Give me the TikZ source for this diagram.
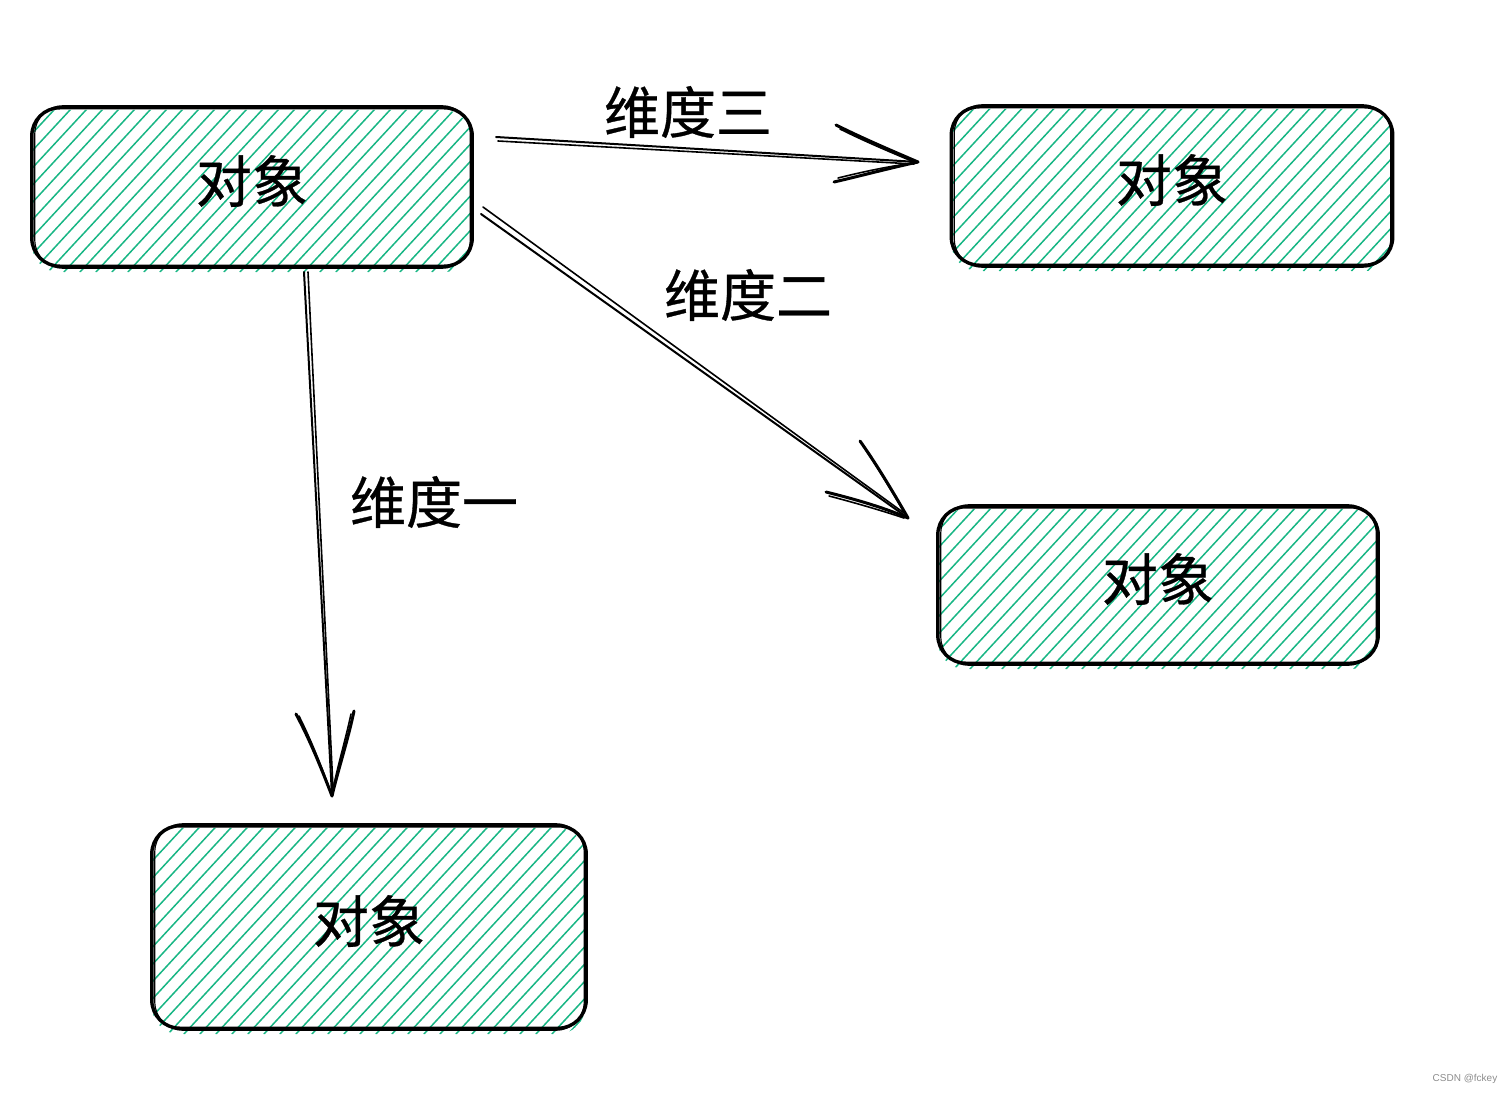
\documentclass[tikz,border=0pt]{standalone}
\usepackage{fontspec}
\setmainfont{Noto Sans CJK SC}[FakeBold=0.6]
\newfontfamily\wmfont{Liberation Sans}
\definecolor{hatchgreen}{RGB}{24,182,132}
\tikzset{
  hatch/.style={draw=hatchgreen, line width=1.5pt},
  objbox/.style={draw=none, rounded corners=28pt, inner sep=0pt,
    font=\fontsize{56}{60}\selectfont},
  outl/.style={draw=black, line width=3.4pt, rounded corners=28pt},
  outl2/.style={draw=black, line width=1.2pt, rounded corners=28pt},
  shaft/.style={draw=black, line width=2pt, line cap=round},
  shaftthin/.style={draw=black, line width=1.6pt, line cap=round},
  head/.style={draw=black, line width=3pt, line cap=round},
  headthin/.style={draw=black, line width=1.6pt, line cap=round},
  lbl/.style={font=\fontsize{56}{60}\selectfont, inner sep=0pt},
}
\newcommand\hatchbox[1]{%
  \begin{scope}
    \clip[rounded corners=28pt] ([yshift=-6pt]#1.south west) rectangle ([xshift=-1pt,yshift=-2pt]#1.north east);
    \foreach \k in {-240,-224,...,480}
      \draw[hatch] ([shift={(\k pt,-6pt)}]#1.south west) -- ++(250pt,270pt);
  \end{scope}
  \draw[outl] (#1.north west) rectangle (#1.south east);
  \draw[outl2] ([shift={(3,-2)}]#1.north west) rectangle ([shift={(-2,2)}]#1.south east);}
\newcommand\objtext{\raisebox{6pt}[\height][\depth]{对象}}
\begin{document}
\begin{tikzpicture}[x=1pt,y=-1pt]
\useasboundingbox (0,0) rectangle (1512,1094);
% boxes
\node[objbox, minimum width=440pt, minimum height=158pt] (a) at (252,187) {};
\node[objbox, minimum width=441pt, minimum height=158pt] (b) at (1172,186) {};
\node[objbox, minimum width=440pt, minimum height=156pt] (c) at (1158,585) {};
\node[objbox, minimum width=434pt, minimum height=202pt] (d) at (369,927) {};
\hatchbox{a}
\hatchbox{b}
\hatchbox{c}
\hatchbox{d}
\node[lbl] (ta) at (a.center) {\objtext};
\node[lbl] (tb) at (b.center) {\objtext};
\node[lbl] (tc) at (c.center) {\objtext};
\node[lbl] (td) at (d.center) {\objtext};
% arrow endpoints
\coordinate (a1s) at (304,272);
\coordinate (a1e) at (332,796);
\coordinate (a2s) at (481,214);
\coordinate (a2e) at (908,518);
\coordinate (a3s) at (496,137);
\coordinate (a3e) at (918,162);
% arrow 1 (down)
\draw[shaft] (a1s) -- (a1e);
\draw[shaftthin] ([xshift=4]a1s) -- ([shift={(1,-8)}]a1e);
\draw[head] (296,714) .. controls (310,740) and (322,770) .. (a1e);
\draw[headthin] (299,716) .. controls (312,742) and (322,768) .. ([shift={(-2,-6)}]a1e);
\draw[head] (354,711) .. controls (348,740) and (338,770) .. (a1e);
\draw[headthin] (351,714) .. controls (345,742) and (337,768) .. ([shift={(1,-6)}]a1e);
% arrow 2 (diagonal)
\draw[shaft] (a2s) -- (a2e);
\draw[shaftthin] ([shift={(2,-7)}]a2s) -- ([shift={(-4,-5)}]a2e);
\draw[head] (860,441) .. controls (875,462) and (892,490) .. (a2e);
\draw[headthin] (863,446) .. controls (877,466) and (892,492) .. ([shift={(-2,-3)}]a2e);
\draw[head] (826,492) .. controls (850,498) and (880,506) .. (a2e);
\draw[headthin] (829,496) .. controls (852,502) and (880,510) .. ([shift={(-4,0)}]a2e);
% arrow 3 (right)
\draw[shaft] (a3s) -- (a3e);
\draw[shaftthin] ([shift={(2,4)}]a3s) -- ([shift={(-4,2)}]a3e);
\draw[head] (836,125) .. controls (862,138) and (890,150) .. (a3e);
\draw[headthin] (840,129) .. controls (864,141) and (890,152) .. ([shift={(-4,0)}]a3e);
\draw[head] (834,182) .. controls (860,176) and (890,168) .. (a3e);
\draw[headthin] (838,178) .. controls (862,172) and (890,166) .. ([shift={(-4,1)}]a3e);
% labels
\node[lbl] (l3) at (688,112) {维度三};
\node[lbl] (l2) at (748,295) {维度二};
\node[lbl] (l1) at (434,502) {维度一};
% watermark
\node[font=\wmfont\fontsize{10}{12}\selectfont, text=black!45, inner sep=0pt] (wm) at (1465,1079) {CSDN @fckey};
\end{tikzpicture}
\end{document}
